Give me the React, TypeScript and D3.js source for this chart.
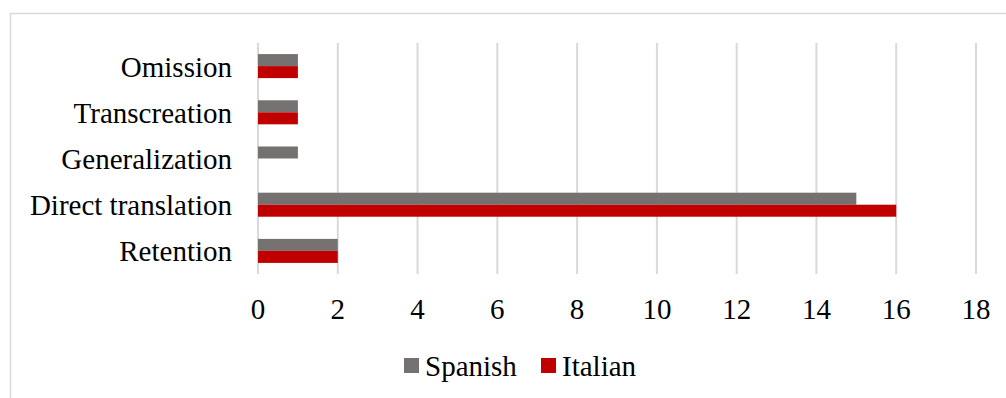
import React from "react";
import * as d3 from "d3";

const categories = ["Omission", "Transcreation", "Generalization", "Direct translation", "Retention"];
const spanish = [1, 1, 1, 15, 2];
const italian = [1, 1, 0, 16, 2];
const xTicks = [0, 2, 4, 6, 8, 10, 12, 14, 16, 18];
const seriesNames = ["Spanish", "Italian"];

const W = 1006;
const H = 398;
const COLORS = ["#767171", "#C00000"];
const FONT = "'Liberation Serif', 'Times New Roman', serif";
const FS = 29;

export default function App() {
  const x = d3.scaleLinear().domain([0, 18]).range([258, 976]);
  const y = d3.scaleBand<string>().domain(categories).range([43, 274]).paddingInner(0.48).paddingOuter(0.24);
  const inner = d3.scaleBand<string>().domain(seriesNames).range([0, y.bandwidth()]);
  const series = [spanish, italian];

  return (
    <svg width={W} height={H} style={{ position: "absolute", left: 0, top: 0, display: "block", background: "#fff" }}>
      <rect x={0} y={0} width={W} height={H} fill="#fff" />
      <path d={`M10.5,${H} V13.5 H${W}`} fill="none" stroke="#d9d9d9" strokeWidth={1.5} />
      {xTicks.map((t) => (
        <line key={"g" + t} x1={x(t)} x2={x(t)} y1={43} y2={274} stroke="#d9d9d9" strokeWidth={2} />
      ))}
      {categories.map((c, i) =>
        series.map((s, j) =>
          s[i] > 0 ? (
            <rect
              key={c + j}
              x={x(0)}
              y={(y(c) as number) + (inner(seriesNames[j]) as number)}
              width={x(s[i]) - x(0)}
              height={inner.bandwidth()}
              fill={COLORS[j]}
            />
          ) : null
        )
      )}
      {categories.map((c) => (
        <text
          key={"l" + c}
          x={232}
          y={(y(c) as number) + y.bandwidth() / 2}
          dy="0.36em"
          textAnchor="end"
          fontFamily={FONT}
          fontSize={FS}
          fill="#000"
        >
          {c}
        </text>
      ))}
      {xTicks.map((t) => (
        <text key={"t" + t} x={x(t)} y={319} textAnchor="middle" fontFamily={FONT} fontSize={FS} fill="#000">
          {t}
        </text>
      ))}
      <g>
        <rect x={404} y={358} width={15} height={15} fill={COLORS[0]} />
        <text x={425} y={376} fontFamily={FONT} fontSize={FS} fill="#000">
          {seriesNames[0]}
        </text>
        <rect x={541} y={358} width={15} height={15} fill={COLORS[1]} />
        <text x={562} y={376} fontFamily={FONT} fontSize={FS} fill="#000">
          {seriesNames[1]}
        </text>
      </g>
    </svg>
  );
}
